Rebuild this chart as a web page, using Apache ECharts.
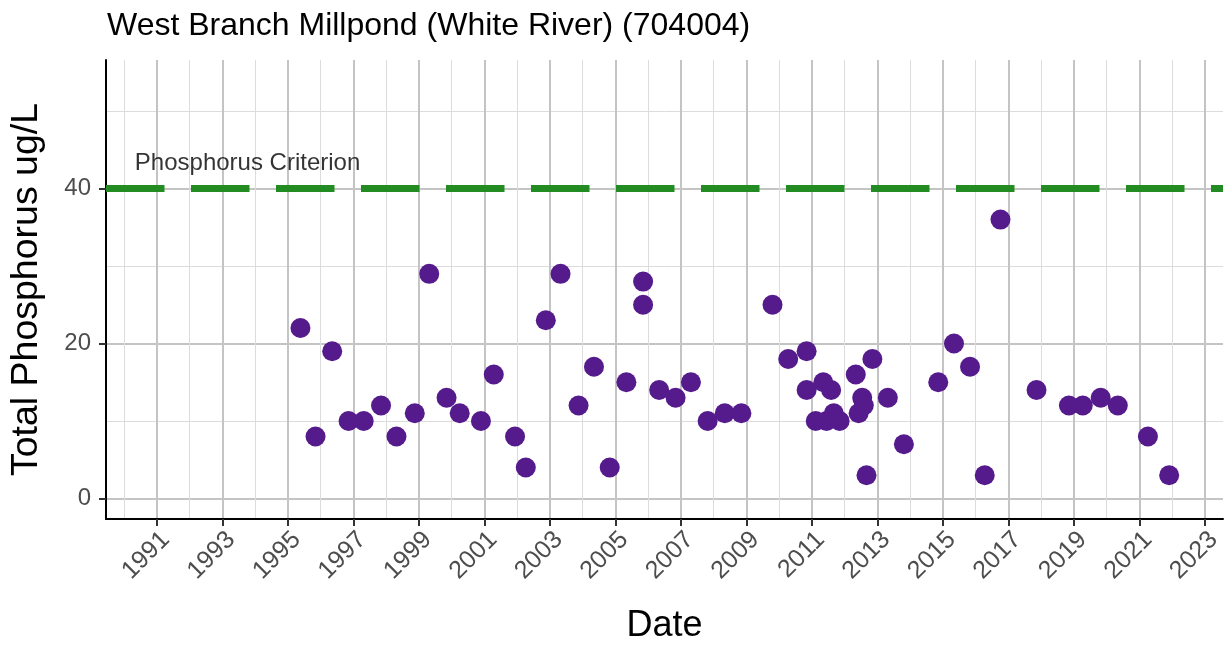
<!DOCTYPE html>
<html>
<head>
<meta charset="utf-8">
<script src="https://cdn.jsdelivr.net/npm/echarts@6/dist/echarts.min.js"></script>
<style>
  html, body { margin: 0; padding: 0; background: #ffffff; }
  #chart { width: 1231px; height: 645px; }
</style>
</head>
<body>
<div id="chart"></div>
<script>
// Site and sampling record
const siteTitle = 'West Branch Millpond (White River) (704004)';

const sampleDates = [
  '1995-05-22', '1995-11-06', '1996-05-10', '1996-11-09', '1997-04-27', '1997-11-06',
  '1998-04-27', '1998-11-17', '1999-04-27', '1999-11-06', '2000-04-01', '2000-11-24',
  '2001-04-16', '2001-12-09', '2002-04-08', '2002-11-17', '2003-04-30', '2003-11-17',
  '2004-05-07', '2004-10-30', '2005-05-04', '2005-11-06', '2005-11-06', '2006-05-04',
  '2006-11-03', '2007-04-23', '2007-10-26', '2008-05-04', '2008-11-06', '2009-10-19',
  '2010-04-12', '2010-11-03', '2010-11-03', '2011-02-13', '2011-05-08', '2011-06-13',
  '2011-08-03', '2011-09-02', '2011-11-06', '2012-05-04', '2012-06-05', '2012-07-15',
  '2012-08-02', '2012-09-01', '2012-11-06', '2013-04-27', '2013-10-23', '2014-11-10',
  '2015-05-04', '2015-10-30', '2016-04-11', '2016-10-04', '2017-11-10', '2018-11-06',
  '2019-04-09', '2019-10-26', '2020-05-04', '2021-04-05', '2021-11-28'
];

// Total phosphorus, ug/L
const totalPhosphorus = [
  22, 8, 19, 10, 10, 12,
  8, 11, 29, 13, 11, 10,
  16, 8, 4, 23, 29, 12,
  17, 4, 15, 28, 25, 14,
  13, 15, 10, 11, 11, 25,
  18, 19, 14, 10, 15, 10,
  14, 11, 10, 16, 11, 13,
  12, 3, 18, 13, 7, 15,
  20, 17, 3, 36, 14, 12,
  12, 13, 12, 8, 3
];

const criterion = 40;
const criterionLabel = 'Phosphorus Criterion';

// Axis breaks
const yearTicks = [1991, 1993, 1995, 1997, 1999, 2001, 2003, 2005, 2007, 2009, 2011, 2013, 2015, 2017, 2019, 2021, 2023];
const yearMinorBreaks = [1990, 1992, 1994, 1996, 1998, 2000, 2002, 2004, 2006, 2008, 2010, 2012, 2014, 2016, 2018, 2020, 2022];
const tpTicks = [0, 20, 40];
const tpMinorBreaks = [10, 30, 50];

// Fractional year from an ISO date string
function decimalYear(iso) {
  const [y, m, d] = iso.split('-').map(Number);
  const start = Date.UTC(y, 0, 1);
  const end = Date.UTC(y + 1, 0, 1);
  return y + (Date.UTC(y, m - 1, d) - start) / (end - start);
}

const points = sampleDates.map((d, i) => [decimalYear(d), totalPhosphorus[i]]);

const FONT = '"Liberation Sans", Arial, Helvetica, sans-serif';
const X_RANGE = { min: 1989.45, max: 2023.55 };
const Y_RANGE = { min: -2.65, max: 56.6 };

const chart = echarts.init(document.getElementById('chart'), null, { renderer: 'canvas' });

chart.setOption({
  animation: false,
  backgroundColor: '#ffffff',
  textStyle: { fontFamily: FONT },
  title: {
    text: siteTitle,
    left: 102,
    top: 5,
    textStyle: { fontFamily: FONT, fontSize: 32, fontWeight: 'normal', color: '#000000' }
  },
  grid: { left: 106, right: 8, top: 60, bottom: 126, containLabel: false, outerBoundsMode: 'none' },
  xAxis: [
    {
      type: 'value',
      min: X_RANGE.min,
      max: X_RANGE.max,
      position: 'bottom',
      name: 'Date',
      nameLocation: 'middle',
      nameGap: 89,
      nameTextStyle: { fontFamily: FONT, fontSize: 36, color: '#000000' },
      axisLine: { show: true, onZero: false, lineStyle: { color: '#000000', width: 2 } },
      axisTick: { show: true, customValues: yearTicks, length: 7, lineStyle: { color: '#333333', width: 2 } },
      axisLabel: {
        customValues: yearTicks,
        rotate: 45,
        margin: 8,
        align: 'right',
        verticalAlign: 'top',
        fontFamily: FONT,
        fontSize: 25,
        color: '#4d4d4d',
        formatter: v => String(Math.round(v))
      },
      splitLine: { show: true, lineStyle: { color: '#c4c4c4', width: 2 } }
    },
    {
      type: 'value',
      min: X_RANGE.min,
      max: X_RANGE.max,
      position: 'bottom',
      axisLine: { show: false },
      axisTick: { show: false, customValues: yearMinorBreaks },
      axisLabel: { show: false, customValues: yearMinorBreaks },
      splitLine: { show: true, lineStyle: { color: '#dcdcdc', width: 1 } }
    }
  ],
  yAxis: [
    {
      type: 'value',
      min: Y_RANGE.min,
      max: Y_RANGE.max,
      position: 'left',
      name: 'Total Phosphorus ug/L',
      nameLocation: 'middle',
      nameGap: 60,
      nameTextStyle: { fontFamily: FONT, fontSize: 37.5, color: '#000000' },
      axisLine: { show: true, onZero: false, lineStyle: { color: '#000000', width: 2 } },
      axisTick: { show: true, customValues: tpTicks, length: 7, lineStyle: { color: '#333333', width: 2 } },
      axisLabel: {
        customValues: tpTicks,
        margin: 15,
        fontFamily: FONT,
        fontSize: 24,
        color: '#4d4d4d'
      },
      splitLine: { show: true, lineStyle: { color: '#c4c4c4', width: 2 } }
    },
    {
      type: 'value',
      min: Y_RANGE.min,
      max: Y_RANGE.max,
      position: 'left',
      axisLine: { show: false },
      axisTick: { show: false, customValues: tpMinorBreaks },
      axisLabel: { show: false, customValues: tpMinorBreaks },
      splitLine: { show: true, lineStyle: { color: '#dcdcdc', width: 1 } }
    }
  ],
  series: [
    {
      name: 'Total Phosphorus',
      type: 'scatter',
      xAxisIndex: 0,
      yAxisIndex: 0,
      data: points,
      symbol: 'circle',
      symbolSize: 20,
      itemStyle: { color: '#551A8B', opacity: 1 },
      z: 3,
      markLine: {
        silent: true,
        symbol: ['none', 'none'],
        data: [{ yAxis: criterion }],
        lineStyle: { color: '#228B22', width: 7, type: [58.5, 26.5], cap: 'butt', opacity: 1 },
        label: { show: false },
        emphasis: { disabled: true }
      }
    },
    {
      name: 'criterion label',
      type: 'scatter',
      xAxisIndex: 0,
      yAxisIndex: 0,
      silent: true,
      symbolSize: 0,
      data: [[1990.33, 43.3]],
      label: {
        show: true,
        position: 'right',
        distance: 0,
        formatter: criterionLabel,
        fontFamily: FONT,
        fontSize: 24,
        color: '#000000'
      },
      z: 4
    }
  ]
});
</script>
</body>
</html>
